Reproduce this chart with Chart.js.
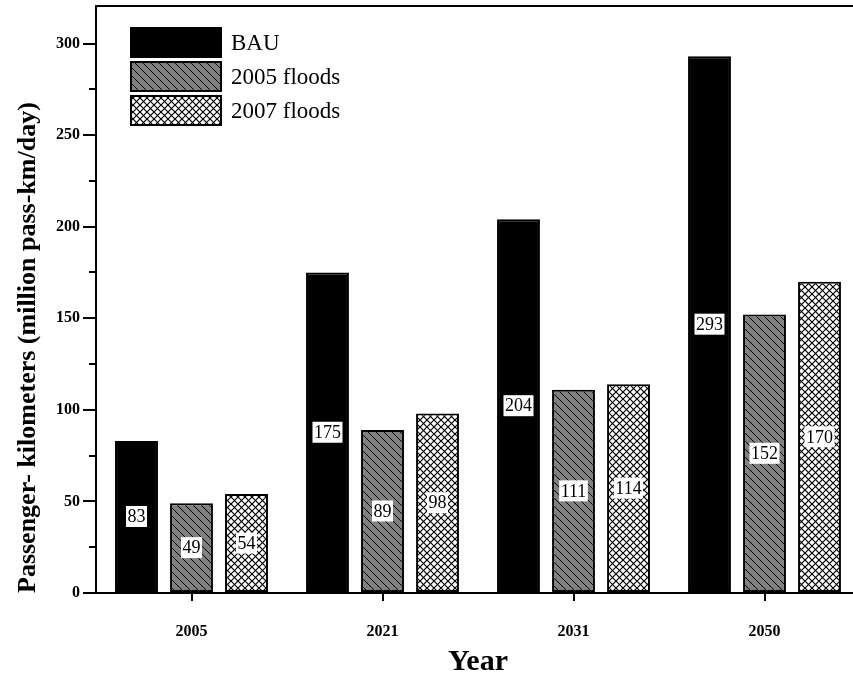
<!DOCTYPE html>
<html>
<head>
<meta charset="utf-8">
<script src="https://cdn.jsdelivr.net/npm/chart.js@4/dist/chart.umd.min.js"></script>
<style>
  html, body { margin: 0; padding: 0; background: #fff; overflow: hidden; width: 853px; height: 680px; }
  canvas { display: block; }
</style>
</head>
<body>
<canvas id="c" width="862" height="680"></canvas>
<script>
// Passenger-kilometres per scenario and year
const years = ['2005', '2021', '2031', '2050'];
const seriesNames = ['BAU', '2005 floods', '2007 floods'];
const bau = [83, 175, 204, 293];
const floods2005 = [49, 89, 111, 152];
const floods2007 = [54, 98, 114, 170];

// Value axis
const yMin = 0;
const yMax = 320.5;
const yMajorStep = 50;
const yMinorStep = 25;
const yLastTick = 300;

const SERIF = '"Liberation Serif", "Times New Roman", serif';

// Fill patterns: diagonal hatch on grey, and a diamond cross-hatch on white
function makePattern(bg, size, dirs, lw) {
  const c = document.createElement('canvas');
  c.width = size; c.height = size;
  const g = c.getContext('2d');
  g.fillStyle = bg;
  g.fillRect(0, 0, size, size);
  g.strokeStyle = '#000';
  g.lineWidth = lw;
  dirs.forEach(d => {
    g.beginPath();
    [-size, 0, size].forEach(o => {
      if (d === 'back') { g.moveTo(o, 0); g.lineTo(o + size, size); }
      else { g.moveTo(o, size); g.lineTo(o + size, 0); }
    });
    g.stroke();
  });
  return g.createPattern(c, 'repeat');
}
const hatchFill = makePattern('#808080', 8, ['back'], 1);
const crossFill = makePattern('#ffffff', 7, ['back', 'fwd'], 1.2);

// Frame around the plot area plus the short minor ticks on the value axis
const framePlugin = {
  id: 'frame',
  afterDraw(chart) {
    const { ctx, chartArea: a } = chart;
    const ys = chart.scales.y;
    ctx.save();
    ctx.strokeStyle = '#000';
    ctx.lineWidth = 2;
    ctx.strokeRect(a.left, a.top, a.right - a.left, a.bottom - a.top);
    ctx.beginPath();
    for (let v = yMin + yMinorStep; v < yLastTick; v += yMajorStep) {
      const py = Math.round(ys.getPixelForValue(v));
      ctx.moveTo(a.left - 7, py);
      ctx.lineTo(a.left, py);
    }
    ctx.stroke();
    ctx.restore();
  }
};

// Value labels in white boxes at the middle of each bar
const valueLabelPlugin = {
  id: 'valueLabels',
  afterDatasetsDraw(chart) {
    const { ctx } = chart;
    ctx.save();
    ctx.font = '18px ' + SERIF;
    ctx.textAlign = 'center';
    ctx.textBaseline = 'middle';
    chart.data.datasets.forEach((ds, di) => {
      const meta = chart.getDatasetMeta(di);
      meta.data.forEach((bar, i) => {
        const txt = String(ds.data[i]);
        const cx = bar.x;
        const cy = (bar.y + bar.base) / 2;
        const w = ctx.measureText(txt).width + 3;
        const h = 21;
        ctx.fillStyle = '#fff';
        ctx.fillRect(cx - w / 2, cy - h / 2, w, h);
        ctx.fillStyle = '#000';
        ctx.fillText(txt, cx, cy + 1);
      });
    });
    ctx.restore();
  }
};

// Legend drawn inside the plot, top-left
const boxLegendPlugin = {
  id: 'boxLegend',
  afterDraw(chart) {
    const { ctx, chartArea: a } = chart;
    const x0 = a.left + 34, y0 = a.top + 21;
    const bw = 92, bh = 31, step = 34;
    ctx.save();
    ctx.font = '23px ' + SERIF;
    ctx.textBaseline = 'middle';
    ctx.textAlign = 'left';
    chart.data.datasets.forEach((ds, i) => {
      const y = y0 + i * step;
      ctx.fillStyle = ds.backgroundColor;
      ctx.fillRect(x0, y, bw, bh);
      ctx.strokeStyle = '#000';
      ctx.lineWidth = 2;
      ctx.strokeRect(x0 + 1, y + 1, bw - 2, bh - 2);
      ctx.fillStyle = '#000';
      ctx.fillText(ds.label, x0 + bw + 9, y + bh / 2 + 1);
    });
    ctx.restore();
  }
};

const barStyle = { borderColor: '#000', borderWidth: 2, borderSkipped: false };

new Chart(document.getElementById('c'), {
  type: 'bar',
  data: {
    labels: years,
    datasets: [
      { label: seriesNames[0], data: bau, backgroundColor: '#000', ...barStyle },
      { label: seriesNames[1], data: floods2005, backgroundColor: hatchFill, ...barStyle },
      { label: seriesNames[2], data: floods2007, backgroundColor: crossFill, ...barStyle }
    ]
  },
  options: {
    responsive: false,
    animation: false,
    devicePixelRatio: 1,
    layout: { padding: { top: 6, right: 2, left: 0, bottom: 0 } },
    datasets: { bar: { categoryPercentage: 0.864, barPercentage: 0.78 } },
    plugins: {
      legend: { display: false },
      tooltip: { enabled: false }
    },
    scales: {
      x: {
        grid: { display: true, drawOnChartArea: false, offset: false, color: '#000', lineWidth: 2, tickLength: 8 },
        border: { display: true, color: '#000', width: 2 },
        ticks: { color: '#000', padding: 21, font: { family: SERIF, size: 16, weight: 'bold' }, maxRotation: 0 },
        title: { display: true, text: 'Year', color: '#000', padding: { top: 0, bottom: 0 }, font: { family: SERIF, size: 30, weight: 'bold' } },
        afterFit(s) { s.height = 87; }
      },
      y: {
        min: yMin,
        max: yMax,
        grid: { display: true, drawOnChartArea: false, color: '#000', lineWidth: 2, tickLength: 13 },
        border: { display: true, color: '#000', width: 2 },
        ticks: { stepSize: yMajorStep, color: '#000', padding: 3, font: { family: SERIF, size: 16, weight: 'bold' } },
        afterBuildTicks(s) { s.ticks = s.ticks.filter(t => t.value <= yLastTick); },
        title: { display: true, text: 'Passenger- kilometers (million pass-km/day)', align: 'start', color: '#000', padding: { top: 13, bottom: 0 }, font: { family: SERIF, size: 26, weight: 'bold' } },
        afterFit(s) { s.width = 96; s.paddingTop = 0; s.paddingBottom = 0; }
      }
    }
  },
  plugins: [framePlugin, valueLabelPlugin, boxLegendPlugin]
});
</script>
</body>
</html>
